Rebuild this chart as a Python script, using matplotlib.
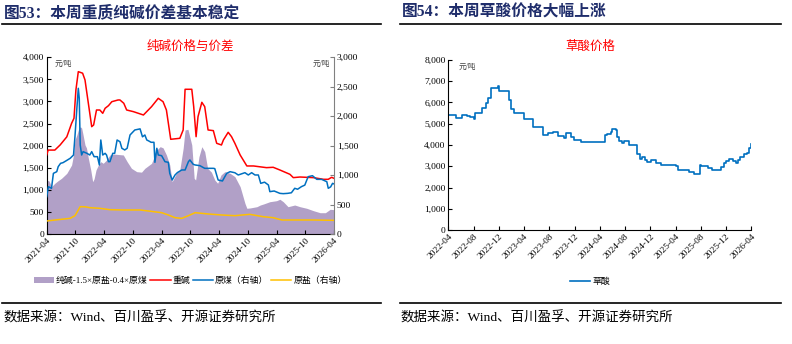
import matplotlib
matplotlib.use("Agg")
import matplotlib.pyplot as plt
from matplotlib.lines import Line2D
from matplotlib.patches import Patch
from matplotlib.ticker import FuncFormatter, MultipleLocator

FAM = ['Liberation Serif', 'Noto Sans CJK SC']
plt.rcParams['font.family'] = FAM
plt.rcParams['axes.unicode_minus'] = False

# ---------------- Left chart data (x = months since 2021-04) ----------------
left_tick_labels = ['2021-04', '2021-10', '2022-04', '2022-10', '2023-04', '2023-10',
                    '2024-04', '2024-10', '2025-04', '2025-10', '2026-04']

soda_m = [0, 0.3, 1.7, 2.8, 4.2, 5.2, 5.7, 6.1, 6.6, 7.5, 8.0, 8.5, 9.4, 9.8, 10.4, 11.1,
          11.7, 12.2, 12.9, 13.6, 14.9, 15.3, 16.1, 16.7, 18.1, 20.2, 21.9, 23.3, 24.3,
          25.0, 25.9, 27.8, 28.5, 28.9, 30.3, 30.7, 31.2, 31.6, 32.4, 33.0, 33.7, 34.8,
          35.5, 36.5, 36.9, 37.9, 38.6, 39.3, 40.4, 41.8, 43.2, 45.9, 47.3, 48.7, 50.8,
          51.5, 52.9, 55.7, 57.8, 58.8, 59.5, 60]
soda_v = [1789, 1900, 1900, 2015, 2200, 2505, 2620, 3260, 3675, 3640, 3487, 3108, 2430,
          2468, 2807, 2807, 2732, 2846, 2905, 2995, 3034, 3034, 2959, 2807, 2770, 2694,
          2883, 3072, 2995, 2807, 2144, 2166, 2355, 3276, 3276, 2883, 2203, 2656, 2981,
          2883, 2355, 2340, 2053, 2015, 2128, 2302, 2203, 2053, 1789, 1540, 1540, 1502,
          1510, 1449, 1351, 1276, 1290, 1276, 1238, 1238, 1283, 1260]

coal_m = [0, 0.35, 1.0, 1.4, 2.1, 2.4, 2.9, 3.4, 4.0, 4.9, 5.6, 5.9, 6.3, 6.6, 6.8, 7.0,
          7.3, 7.6, 8.4, 9.0, 9.4, 9.9, 10.6, 11.0, 11.3, 11.7, 12.2, 12.5, 12.9, 13.2,
          13.8, 14.2, 14.7, 15.3, 15.7, 16.3, 16.8, 17.4, 18.4, 19.5, 20.0, 20.5, 20.9,
          21.3, 21.8, 22.4, 22.6, 23.0, 23.3, 24.0, 24.7, 25.4, 25.7, 26.2, 26.8, 27.3,
          28.2, 28.9, 29.6, 29.9, 30.6, 31.0, 32.0, 33.0, 34.8, 35.1, 35.8, 36.7, 37.6,
          38.3, 39.3, 40.0, 41.4, 42.1, 42.8, 43.5, 44.2, 44.7, 45.5, 46.3, 46.6, 47.5,
          48.7, 49.4, 50.3, 51.1, 51.8, 52.4, 53.2, 53.9, 54.6, 55.5, 56.4, 57.4, 58.5,
          58.8, 59.3, 59.7, 60]
coal_v = [633, 803, 776, 1030, 1058, 1143, 1200, 1211, 1240, 1285, 1341, 1652, 2134, 2474,
          2303, 1511, 1341, 1398, 1370, 1341, 1398, 1313, 1313, 1172, 1596, 1341, 1370,
          1341, 1228, 1228, 1370, 1370, 1596, 1567, 1455, 1427, 1455, 1681, 1766, 1785,
          1650, 1681, 1596, 1580, 1557, 1557, 1217, 1455, 1341, 1330, 1228, 1217, 1030,
          917, 1002, 1043, 1087, 1087, 1228, 1257, 1183, 1172, 1160, 1115, 1115, 1110,
          917, 900, 1030, 1058, 1040, 1002, 1041, 1002, 1041, 1002, 1002, 860, 880, 832,
          719, 730, 690, 685, 690, 700, 776, 760, 804, 830, 973, 990, 928, 928, 888, 776,
          800, 860, 850]

salt_m = [0, 1.8, 4.9, 5.9, 6.4, 7.0, 8.0, 9.0, 11.1, 13.2, 16.0, 19.5, 21.2, 24.0, 25.4,
          26.8, 28.2, 29.6, 31.0, 33.7, 36.5, 39.3, 42.4, 45.2, 47.3, 49.1, 52.0, 55.7, 60]
salt_v = [221, 238, 266, 311, 379, 464, 462, 447, 436, 413, 408, 408, 391, 362, 323, 277,
          266, 311, 362, 340, 323, 311, 334, 294, 277, 238, 238, 238, 232]

spread_m = [0, 0.5, 1.0, 1.7, 2.3, 3.1, 4.2, 5.2, 5.6, 5.9, 6.3, 6.6, 7.0, 7.3, 7.6, 8.0,
            8.3, 8.7, 9.2, 9.6, 9.9, 10.3, 10.8, 11.3, 11.8, 12.5, 13.2, 14.0, 14.9, 16.0,
            16.8, 17.7, 18.8, 19.8, 20.5, 21.9, 23.0, 23.7, 24.3, 25.0, 25.7, 26.2, 27.1,
            27.8, 28.5, 28.9, 29.5, 30.3, 30.8, 31.1, 31.8, 32.4, 33.0, 33.6, 34.4, 35.1,
            35.7, 36.4, 37.2, 38.3, 39.3, 40.4, 41.4, 41.8, 42.5, 43.9, 44.6, 45.3, 46.6,
            48.0, 48.7, 49.4, 50.4, 51.8, 52.9, 54.3, 55.7, 57.1, 58.2, 59.2, 60]
spread_v = [1223, 1200, 1071, 1148, 1200, 1261, 1374, 1562, 1789, 2128, 2241, 2355, 2430,
            2400, 2241, 2015, 1950, 1714, 1449, 1184, 1250, 1449, 1562, 1637, 1600, 1675,
            1789, 1810, 1800, 1789, 1637, 1487, 1411, 1400, 1487, 1600, 1902, 1977, 1950,
            1789, 1562, 1184, 1374, 1449, 1940, 2355, 2370, 2015, 1261, 1223, 1750, 1977,
            1864, 1487, 1400, 1223, 1148, 1336, 1411, 1374, 1298, 1071, 695, 582, 590, 618,
            656, 680, 731, 754, 786, 731, 618, 656, 618, 582, 528, 482, 482, 559, 550]

# ---------------- Right chart data (x = months since 2022-04) ----------------
right_tick_labels = ['2022-04', '2022-08', '2022-12', '2023-04', '2023-08', '2023-12',
                     '2024-04', '2024-08', '2024-12', '2025-04', '2025-08', '2025-12',
                     '2026-04']
oxalic_m = [0, 1.2, 2.1, 2.9, 3.5, 4.0, 4.2, 5.4, 5.9, 6.3, 6.8, 7.8, 8.1, 9.6, 9.9, 10.4,
            12.0, 13.4, 15.0, 15.8, 16.6, 17.4, 18.4, 18.7, 19.5, 19.9, 21.0, 24.9, 25.2,
            25.7, 26.0, 26.6, 26.8, 27.1, 27.5, 27.9, 28.7, 29.2, 29.9, 30.3, 30.7, 31.1,
            31.4, 32.1, 32.9, 33.7, 36.0, 36.4, 38.2, 39.0, 39.9, 40.0, 41.1, 41.8, 43.2,
            43.7, 44.0, 44.5, 45.1, 45.5, 45.9, 46.2, 46.9, 47.3, 47.7, 47.9, 48.0]
oxalic_v = [5412, 5255, 5412, 5370, 5300, 5208, 5490, 5757, 5961, 6227, 6667, 6777, 6541,
            6118, 5694, 5521, 5224, 4863, 4471, 4549, 4627, 4439, 4345, 4549, 4392, 4235,
            4157, 4471, 4500, 4596, 4737, 4700, 4392, 4188, 4109, 4188, 4000, 3980, 3562,
            3341, 3451, 3294, 3212, 3290, 3165, 3056, 3009, 2820, 2742, 2632, 3056, 3009,
            2900, 2820, 2977, 3134, 3259, 3322, 3259, 3165, 3290, 3447, 3557, 3635, 3839,
            4043, 4043]

RED = '#FF0000'
BLUE = '#0070C0'
YELLOW = '#FFC000'
PURPLE = '#B1A0C7'
NAVY = '#1F2D6B'

W, H = 792, 344
fig = plt.figure(figsize=(W / 100, H / 100), dpi=100)

def fx(px):
    return px / W

def fy(py):
    return 1 - py / H

# headers, rules, sources
fig.text(fx(4), fy(13), '图53：本周重质纯碱价差基本稳定', fontsize=11.3, fontweight='bold',
         color=NAVY, va='center', ha='left', family=FAM)
fig.text(fx(402), fy(13), '图54：本周草酸价格大幅上涨', fontsize=11.3, fontweight='bold',
         color=NAVY, va='center', ha='left', family=FAM)
for x0, x1 in [(2, 381), (400, 781)]:
    fig.add_artist(Line2D([fx(x0), fx(x1)], [fy(24), fy(24)], color='black', lw=1.2))
    fig.add_artist(Line2D([fx(x0), fx(x1)], [fy(303), fy(303)], color='black', lw=1.2))
fig.text(fx(3), fy(318), '数据来源：Wind、百川盈孚、开源证券研究所', fontsize=9.7,
         va='center', ha='left', family=FAM)
fig.text(fx(401), fy(318), '数据来源：Wind、百川盈孚、开源证券研究所', fontsize=9.7,
         va='center', ha='left', family=FAM)

thousands = FuncFormatter(lambda v, p: f'{int(v):,}')

# ---------------- Left chart ----------------
axL = fig.add_axes([fx(46.7), fy(234), fx(334 - 46.7), (234 - 57.3) / H])
axL.fill_between(spread_m, 0, spread_v, color=PURPLE, lw=0, zorder=1)
axL.plot(soda_m, soda_v, color=RED, lw=1.1, zorder=3)
axL.set_xlim(0, 60)
axL.set_ylim(0, 4000)
axL.yaxis.set_major_locator(MultipleLocator(500))
axL.yaxis.set_major_formatter(thousands)
axL.set_xticks(range(0, 61, 6))
axL.set_xticklabels(left_tick_labels, rotation=45, ha='right', rotation_mode='anchor')
axL.tick_params(direction='in', labelsize=6.8, length=3, width=0.8, pad=2)
axL.spines['top'].set_visible(False)
axL.spines['right'].set_visible(False)
axL.set_facecolor('none')

axR = axL.twinx()
axR.plot(coal_m, coal_v, color=BLUE, lw=1.1, zorder=3)
axR.plot(salt_m, salt_v, color=YELLOW, lw=1.1, zorder=3)
axR.set_ylim(0, 3000)
axR.yaxis.set_major_locator(MultipleLocator(500))
axR.yaxis.set_major_formatter(thousands)
axR.tick_params(direction='in', labelsize=6.8, length=3, width=0.8, pad=2, colors='black')
axR.tick_params(axis='y', color='#808080')
axR.spines['top'].set_visible(False)
axR.spines['left'].set_visible(False)
axR.spines['bottom'].set_visible(False)
axR.spines['right'].set_color('#808080')
axL.set_zorder(axR.get_zorder() - 1)
axL.patch.set_visible(False)

fig.text(fx(190), fy(47), '纯碱价格与价差', color=RED, fontsize=9, ha='center',
         va='center', family=FAM)
fig.text(fx(55), fy(64), '元/吨', fontsize=5.5, style='italic', ha='left', va='center',
         color='#404040', family=FAM)
fig.text(fx(330), fy(64), '元/吨', fontsize=5.5, style='italic', ha='right', va='center',
         color='#404040', family=FAM)

handlesL = [Patch(facecolor=PURPLE, edgecolor='none'),
            Line2D([], [], color=RED, lw=1.1),
            Line2D([], [], color=BLUE, lw=1.1),
            Line2D([], [], color=YELLOW, lw=1.1)]
labelsL = ['纯碱-1.5×原盐-0.4×原煤', '重碱', '原煤（右轴）', '原盐（右轴）']
fig.legend(handlesL, labelsL, loc='center', bbox_to_anchor=(fx(190), fy(281)), ncol=4,
           frameon=False, prop={'family': FAM, 'size': 6.4}, handlelength=2.3,
           handleheight=0.6, handletextpad=0.2, columnspacing=0.3, borderpad=0)

# ---------------- Right chart ----------------
ax2 = fig.add_axes([fx(448.3), fy(230), fx(751.3 - 448.3), (230 - 60) / H])
ax2.plot(oxalic_m, oxalic_v, color=BLUE, lw=1.2, drawstyle='steps-post')
ax2.set_xlim(0, 48)
ax2.set_ylim(0, 8000)
ax2.yaxis.set_major_locator(MultipleLocator(1000))
ax2.yaxis.set_major_formatter(thousands)
ax2.set_xticks(range(0, 49, 4))
ax2.set_xticklabels(right_tick_labels, rotation=45, ha='right', rotation_mode='anchor')
ax2.tick_params(direction='in', labelsize=6.8, length=3, width=0.8, pad=2)
ax2.spines['top'].set_visible(False)
ax2.spines['right'].set_visible(False)

fig.text(fx(590), fy(47), '草酸价格', color=RED, fontsize=9, ha='center', va='center',
         family=FAM)
fig.text(fx(459), fy(67), '元/吨', fontsize=5.5, style='italic', ha='left', va='center',
         color='#404040', family=FAM)
fig.legend([Line2D([], [], color=BLUE, lw=1.2)], ['草酸'], loc='center',
           bbox_to_anchor=(fx(590), fy(282)), frameon=False,
           prop={'family': FAM, 'size': 6.4}, handlelength=2.3, handletextpad=0.3,
           borderpad=0)

fig.savefig('out.png', dpi=100)
